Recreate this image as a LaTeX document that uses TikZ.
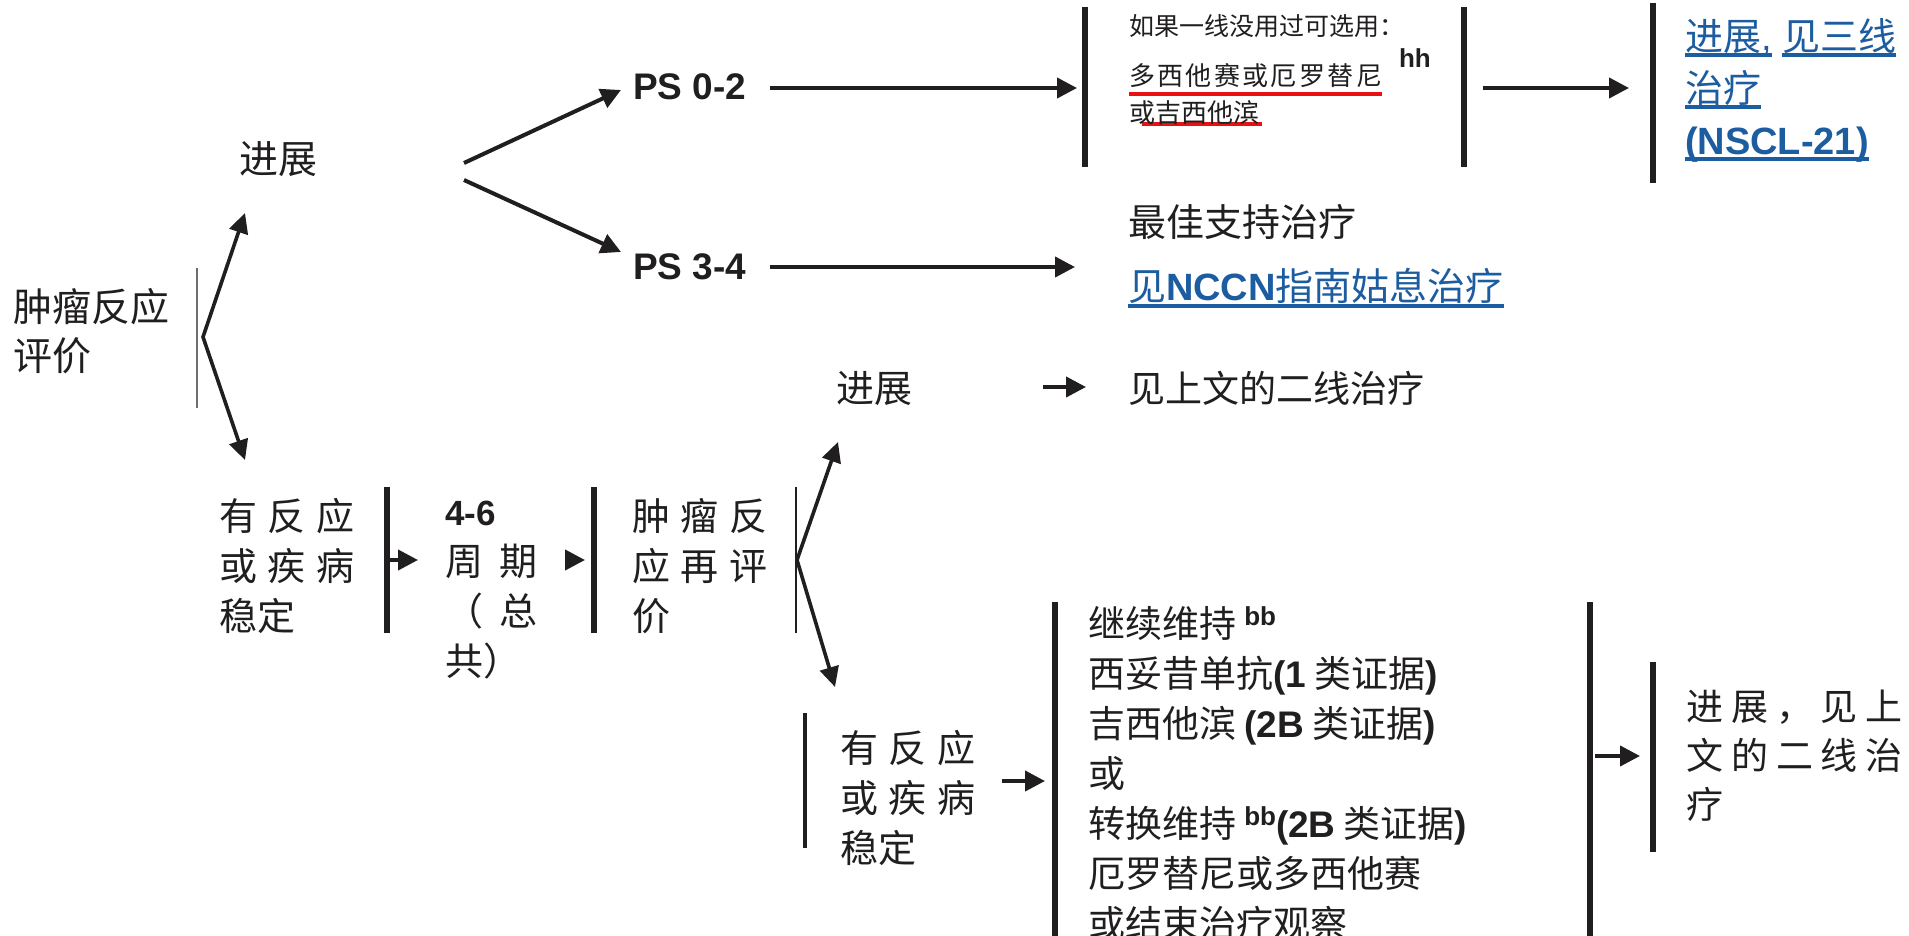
\documentclass[tikz,border=0pt]{standalone}
\usepackage{fontspec}
\setmainfont{Noto Sans CJK SC}
\newfontfamily\arial{Liberation Sans}
\usetikzlibrary{arrows.meta}
\definecolor{ink}{RGB}{32,30,30}
\definecolor{nblue}{RGB}{28,92,160}
\definecolor{ured}{RGB}{232,16,16}
\definecolor{lgray}{RGB}{110,110,110}
\newcommand\fsz[2]{\fontsize{#1}{#2}\selectfont}
\newcommand\lb[1]{{\arial\bfseries #1}}
\newcommand\lr[1]{{\arial #1}}
\newcommand\ulb[1]{\setbox0\hbox{#1}\rlap{\smash{\raisebox{-7pt}{\color{nblue}\rule{\wd0}{4pt}}}}\box0}
\newcommand\ulr[1]{\setbox0\hbox{#1}\rlap{\smash{\raisebox{-10pt}{\color{ured}\rule{\wd0}{4pt}}}}\box0}
\newcommand\supb[1]{\raisebox{12pt}{\fontsize{26}{26}\selectfont\arial\bfseries #1}}
\newcommand\gA{\hspace{11pt}}
\newcommand\gB{\hspace{16pt}}
\newcommand\gC{\hspace{8pt}}
\newcommand\gD{\kern2.4pt}
\tikzset{
 txt/.style={inner sep=0pt, outer sep=0pt, anchor=west, align=left, text=ink},
 arr/.style={draw=ink, line width=4pt, -{Triangle[length=20pt,width=20pt]}},
 fork/.style={draw=ink, line width=3.6pt, line join=miter, {Triangle[length=20pt,width=19pt]}-{Triangle[length=20pt,width=19pt]}},
 bar/.style={draw=ink, line width=5.5pt},
 tbar/.style={draw=ink, line width=2.5pt},
 gbar/.style={draw=lgray, line width=2pt},
}
\begin{document}
\begin{tikzpicture}[x=1pt,y=-1pt]
\useasboundingbox (0,0) rectangle (1909,936);
\fill[white] (0,0) rectangle (1909,936);

% ---- first evaluation
\node[txt,font=\fsz{39}{49}] (evalA) at (13,331) {肿瘤反应\\评价};
\draw[gbar] (197,268) -- (197,408);
\coordinate (apexA) at (203,337);
\coordinate (upA) at (245,213);
\coordinate (dnA) at (245,460);
\draw[fork] (upA) -- (apexA) -- (dnA);

% ---- progression branch
\node[txt,font=\fsz{39}{49}] (progA) at (239,159) {进展};
\coordinate (pa1) at (464,163);
\coordinate (pa2) at (464,180);
\node[txt,font=\fsz{37}{44}\arial\bfseries] (ps02) at (633,87) {PS 0-2};
\node[txt,font=\fsz{37}{44}\arial\bfseries] (ps34) at (633,267) {PS 3-4};
\coordinate (ps02in) at (621,90);
\coordinate (ps34in) at (621,252);
\draw[arr] (pa1) -- (ps02in);
\draw[arr] (pa2) -- (ps34in);

\coordinate (ps02out) at (770,88);
\coordinate (box1in) at (1077,88);
\draw[arr] (ps02out) -- (box1in);
\draw[bar, line width=6pt] (1085,7) -- (1085,167);
\node[txt,font=\fsz{25}{30}] (box1) at (1129,26) {如果一线没用过可选用：};
\node[txt,font=\fsz{26}{30}] (box2) at (1129,76) {\ulr{多\gD 西\gD 他\gD 赛\gD 或\gD 厄\gD 罗\gD 替\gD 尼}};
\node[txt,font=\fsz{26}{30}] (box3) at (1129,113) {\rlap{\kern13pt\smash{\raisebox{-3pt}{\color{ured}\rule{120pt}{4pt}}}}或吉西他滨};
\node[txt,font=\fsz{26}{30}\arial\bfseries] (hh) at (1399,58) {hh};
\draw[bar, line width=6pt] (1464,7) -- (1464,167);
\coordinate (box1out) at (1483,88);
\coordinate (nsclin) at (1629,88);
\draw[arr] (box1out) -- (nsclin);
\draw[bar] (1653,3) -- (1653,183);
\node[txt,font=\fsz{38}{52},text=nblue] (nscl) at (1685,90) {\ulb{进展\lr{,}}\lr{ }\ulb{见三线}\\\ulb{治疗}\\\ulb{\lb{(NSCL-21)}}};

\node[txt,font=\fsz{38}{50}] (bst) at (1128,222) {最佳支持治疗};
\coordinate (ps34out) at (770,267);
\coordinate (bstin) at (1075,267);
\draw[arr] (ps34out) -- (bstin);
\node[txt,font=\fsz{38}{50},text=nblue] (nccn) at (1128,286) {\ulb{见\lb{NCCN}指南姑息治疗}};

% ---- response branch
\node[txt,font=\fsz{38}{50}] (respA) at (219,566) {有\gA 反\gA 应\\或\gA 疾\gA 病\\稳定};
\draw[bar] (387,487) -- (387,633);
\coordinate (respAout) at (387,560);
\coordinate (cycin) at (418,560);
\draw[arr] (respAout) -- (cycin);
\node[txt,font=\fsz{38}{50}] (cyc) at (445,590) {\lb{\fsz{35}{50}4-6}\\周\gB 期\\（\gB 总\\共）};
\coordinate (cycout) at (566,560);
\coordinate (reevalin) at (585,560);
\draw[arr] (cycout) -- (reevalin);
\draw[bar] (594,487) -- (594,633);
\node[txt,font=\fsz{38}{50}] (reeval) at (632,566) {肿\gA 瘤\gA 反\\应\gA 再\gA 评\\价};
\draw[tbar] (796,487) -- (796,633);
\coordinate (apexB) at (797,560);
\coordinate (upB) at (838,442);
\coordinate (dnB) at (835,687);
\draw[fork] (upB) -- (apexB) -- (dnB);

\node[txt,font=\fsz{38}{50}] (progB) at (836,388) {进展};
\coordinate (progBout) at (1043,387);
\coordinate (seeBin) at (1086,387);
\draw[arr] (progBout) -- (seeBin);
\node[txt,font=\fsz{37}{50}] (seeB) at (1128,388) {见上文的二线治疗};

\draw[bar, line width=4pt] (805,713) -- (805,848);
\node[txt,font=\fsz{38}{50}] (respB) at (840,798) {有\gA 反\gA 应\\或\gA 疾\gA 病\\稳定};
\coordinate (respBout) at (1002,781);
\coordinate (listin) at (1045,781);
\draw[arr] (respBout) -- (listin);
\draw[bar] (1055,602) -- (1055,940);
\node[txt,font=\fsz{37}{50}] (list) at (1088,773) {继续维持 \supb{bb}\\西妥昔单抗\lb{(1} 类证据\lb{)}\\吉西他滨 \lb{(2B} 类证据\lb{)}\\或\\转换维持 \supb{bb}\lb{(2B} 类证据\lb{)}\\厄罗替尼或多西他赛\\或结束治疗观察};
\draw[bar] (1590,602) -- (1590,940);
\coordinate (listout) at (1595,756);
\coordinate (progCin) at (1640,756);
\draw[arr] (listout) -- (progCin);
\draw[bar] (1653,662) -- (1653,852);
\node[txt,font=\fsz{37}{49}] (progC) at (1686,756) {进\gC 展\gC ，\gC 见\gC 上\\文\gC 的\gC 二\gC 线\gC 治\\疗};
\end{tikzpicture}
\end{document}
